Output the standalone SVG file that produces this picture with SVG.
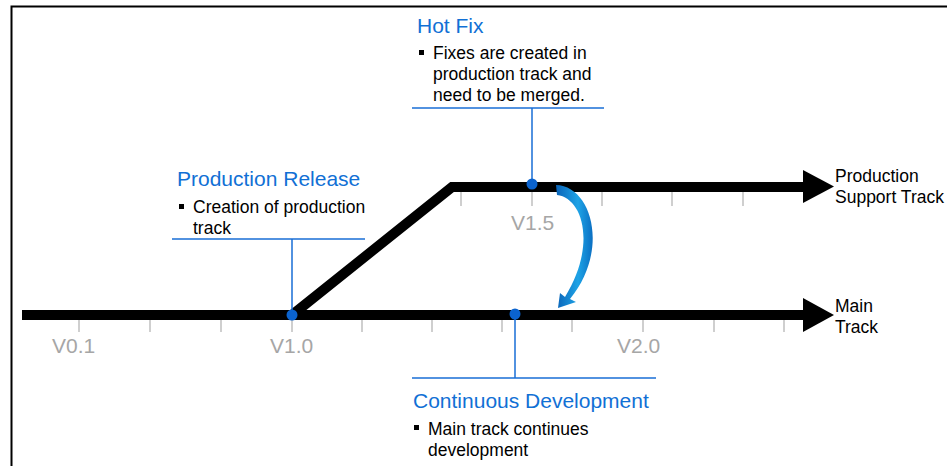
<svg xmlns="http://www.w3.org/2000/svg" width="947" height="466" viewBox="0 0 947 466">
<defs>
<style>
.title{font-family:"Liberation Sans",Arial,sans-serif;font-size:21px;fill:#1170d5}
.body{font-family:"Liberation Sans",Arial,sans-serif;font-size:17.5px;fill:#000}
.ver{font-family:"Liberation Sans",Arial,sans-serif;font-size:21px;fill:#a6a6a6}
.tick{stroke:#bfbfbf;stroke-width:1.5}
.lead{stroke:#1a6fd6;stroke-width:1.5;fill:none}
.dot{fill:#0b63ce}
.track{stroke:#000;stroke-width:10;fill:none;stroke-linejoin:miter}
</style>
<linearGradient id="g" x1="0" y1="0" x2="1" y2="0">
<stop offset="0" stop-color="#0a63b8"/>
<stop offset="0.6" stop-color="#1ea3e6"/>
<stop offset="1" stop-color="#0b6fc2"/>
</linearGradient>
</defs>
<rect width="947" height="466" fill="#fff"/>
<path d="M11.5,466 V6.5 H947" fill="none" stroke="#000" stroke-width="2"/>

<g id="connectors">
<g id="main-track">
<line class="track" x1="22" y1="315" x2="806" y2="315"/>
<polygon points="803,298 834,315 803,332" fill="#000"/>
</g>
<g id="production-track">
<polyline class="track" points="292,315 452,187 806,187" stroke-width="11"/>
<polygon points="803,170 834,186.5 803,203" fill="#000"/>
</g>
<g id="ticks">
<line class="tick" x1="79" y1="320" x2="79" y2="332"/>
<line class="tick" x1="150" y1="320" x2="150" y2="332"/>
<line class="tick" x1="221" y1="320" x2="221" y2="332"/>
<line class="tick" x1="292" y1="320" x2="292" y2="332"/>
<line class="tick" x1="362" y1="320" x2="362" y2="332"/>
<line class="tick" x1="432" y1="320" x2="432" y2="332"/>
<line class="tick" x1="502" y1="320" x2="502" y2="332"/>
<line class="tick" x1="572" y1="320" x2="572" y2="332"/>
<line class="tick" x1="643" y1="320" x2="643" y2="332"/>
<line class="tick" x1="714" y1="320" x2="714" y2="332"/>
<line class="tick" x1="784" y1="320" x2="784" y2="332"/>
<line class="tick" x1="461" y1="192" x2="461" y2="206"/>
<line class="tick" x1="532" y1="192" x2="532" y2="206"/>
<line class="tick" x1="602" y1="192" x2="602" y2="206"/>
<line class="tick" x1="672" y1="192" x2="672" y2="206"/>
<line class="tick" x1="743" y1="192" x2="743" y2="206"/>
</g>
<path id="merge-arrow" d="M556,185 C592,186 610,250 570,299 L576,302 L558,308 L560,293 L565,297 C597,245 583,198 557,195 Z" fill="url(#g)"/>
<g id="leaders">
<path class="lead" d="M172,239 H365 M292,239 V315"/>
<path class="lead" d="M412,108 H604 M532,108 V184"/>
<path class="lead" d="M412,378 H656 M515,315 V378"/>
</g>
</g>

<g id="versions">
<text class="ver" x="52" y="353">V0.1</text>
<text class="ver" x="270" y="353">V1.0</text>
<text class="ver" x="511" y="230">V1.5</text>
<text class="ver" x="617" y="353">V2.0</text>
</g>

<g id="production-release">
<circle class="dot" cx="292" cy="315" r="5.5"/>
<text class="title" x="177" y="186">Production Release</text>
<rect x="179" y="204" width="5" height="5" fill="#000"/>
<text class="body" x="193" y="213">Creation of production</text>
<text class="body" x="193" y="234">track</text>
</g>

<g id="hot-fix">
<circle class="dot" cx="532" cy="184" r="5.5"/>
<text class="title" x="417" y="33">Hot Fix</text>
<rect x="419" y="50" width="5" height="5" fill="#000"/>
<text class="body" x="433" y="59">Fixes are created in</text>
<text class="body" x="433" y="80">production track and</text>
<text class="body" x="433" y="101">need to be merged.</text>
</g>

<g id="continuous-development">
<circle class="dot" cx="515" cy="314" r="5.5"/>
<text class="title" x="413" y="408">Continuous Development</text>
<rect x="414" y="425" width="5" height="5" fill="#000"/>
<text class="body" x="428" y="435">Main track continues</text>
<text class="body" x="428" y="456">development</text>
</g>

<g id="production-support-label">
<text class="body" x="835" y="182">Production</text>
<text class="body" x="835" y="203">Support Track</text>
</g>
<g id="main-track-label">
<text class="body" x="835" y="312">Main</text>
<text class="body" x="835" y="333">Track</text>
</g>
</svg>
